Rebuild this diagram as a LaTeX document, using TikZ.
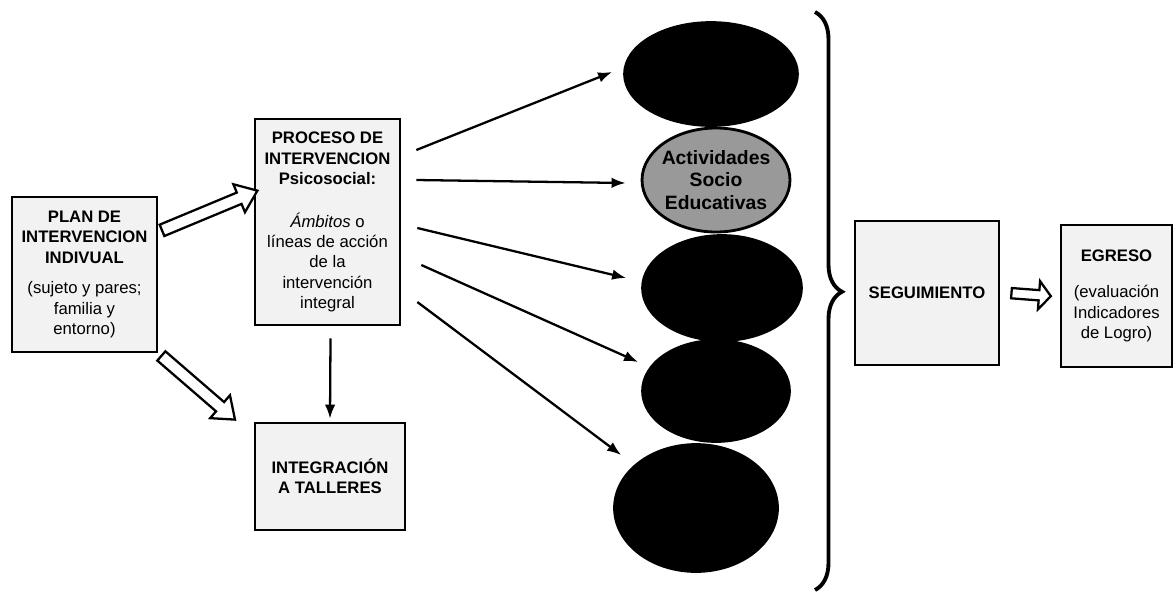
\documentclass[tikz,border=0pt]{standalone}
\usepackage{fontspec}
\setmainfont{Liberation Sans}
\usetikzlibrary{shapes.geometric,shapes.arrows,arrows.meta,calc,decorations.pathreplacing}

\begin{document}
\begin{tikzpicture}[x=0.02cm, y=-0.02cm,
    caja/.style={draw, line width=1.5pt, fill=black!5, inner sep=2pt, align=center,
      font=\fontsize{9.5}{11.5}\selectfont},
    elipse/.style={ellipse, draw, fill=black, line width=1pt},
    flecha/.style={-{Latex[length=8pt,width=6pt]}, line width=1.3pt},
    hueca/.style={single arrow, draw, fill=white, line width=1.3pt, inner xsep=0pt, inner ysep=0.1cm,
      single arrow head extend=0.18cm, single arrow tip angle=75}]
        \useasboundingbox (0,0) rectangle (1176,596);

        % Cajas
        \node[caja, minimum width=2.9cm, minimum height=3.1cm] (plan) at (84.5,274.5)
            {\textbf{PLAN DE}\\\textbf{INTERVENCION}\\\textbf{INDIVUAL}\\[6pt](sujeto y pares;\\familia y\\entorno)};
        \node[caja, minimum width=2.9cm, minimum height=4.12cm] (proc) at (327.5,222)
            {\textbf{PROCESO DE}\\\textbf{INTERVENCION}\\\textbf{Psicosocial:}\\[13pt]\textit{Ámbitos} o\\líneas de acción\\de la\\intervención\\integral};
        \node[caja, minimum width=3cm, minimum height=2.14cm] (integ) at (330,476.5)
            {\textbf{INTEGRACIÓN}\\\textbf{A TALLERES}};
        \node[caja, minimum width=2.88cm, minimum height=2.88cm] (seg) at (927,293)
            {\textbf{SEGUIMIENTO}};
        \node[caja, minimum width=2.22cm, minimum height=2.84cm] (egr) at (1116.5,296)
            {\textbf{EGRESO}\\[9pt](evaluación\\Indicadores\\de Logro)};

        % Elipses
        \node[elipse, minimum width=3.48cm, minimum height=2.08cm] (e1) at (711,74) {};
        \node[elipse, fill=black!40, line width=1.6pt, minimum width=2.96cm, minimum height=2.08cm,
            inner xsep=-8pt, align=center, font=\bfseries\fontsize{11}{13}\selectfont] (e2) at (716,180)
            {Actividades\\Socio\\Educativas};
        \node[elipse, minimum width=3.2cm, minimum height=2.12cm] (e3) at (722,288) {};
        \node[elipse, minimum width=2.96cm, minimum height=2.04cm] (e4) at (716,391) {};
        \node[elipse, minimum width=3.28cm, minimum height=2.56cm] (e5) at (696,508) {};

        % Flechas huecas
        \coordinate (p2) at (232,417);
        \path let \p1=($(proc.158)-(plan.30)$) in
            (plan.30) -- node[hueca, sloped, minimum height={veclen(\x1,\y1)}] (h1) {} (proc.158);
        \path let \p1=($(p2)-(plan.south east)$) in
            (plan.south east) -- node[hueca, sloped, minimum height={veclen(\x1,\y1)}] (h2) {} (p2);
        \path let \p1=($(egr.west)-(seg.east)$) in
            ($(seg.east)+(9,0)$) -- node[hueca, sloped, inner ysep=0.08cm, single arrow head extend=0.18cm,
                single arrow tip angle=100, minimum height={veclen(\x1,\y1)-20*0.02cm}] (h3) {} ($(egr.west)+(-11,0)$);

        % Flechas
        \draw[flecha] ($(proc.east)+(15,-72)$) -- ($(e1.west)+(-11,-2)$);
        \draw[flecha] ($(proc.east)+(15,-42)$) -- ($(e2.west)+(-15,3)$);
        \draw[flecha] ($(proc.east)+(16,6)$) -- ($(e3.west)+(-15,-10)$);
        \draw[flecha] ($(proc.east)+(20,43)$) -- ($(e4.west)+(-3,-29)$);
        \draw[flecha] ($(proc.east)+(16,80)$) -- ($(e5.west)+(8,-53)$);
        \draw[flecha] ($(proc.south)+(3,12)$) -- ($(integ.north)+(0,-3)$);

        % Llave
        \draw[line width=2.2pt, decorate, decoration={brace, amplitude=0.54cm, aspect=0.484}]
            (815,12) -- (815,590);
    \end{tikzpicture}
\end{document}
